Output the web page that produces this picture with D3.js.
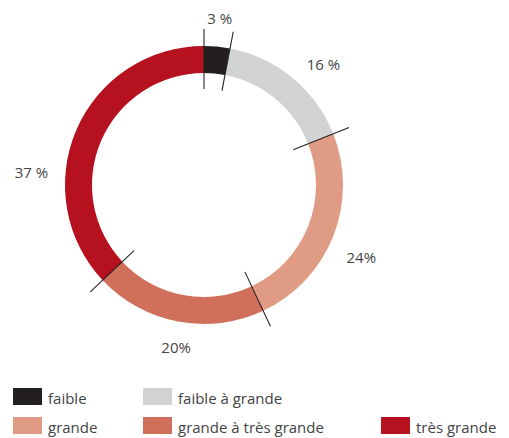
<!DOCTYPE html>
<html><head><meta charset="utf-8">
<script src="https://cdn.jsdelivr.net/npm/d3@7"></script>
<style>body{margin:0;background:#fff}svg{display:block}</style>
</head><body>
<svg id="c" width="509" height="438"></svg>
<script>
const categories = ["faible", "faible à grande", "grande", "grande à très grande", "très grande"];
const values = [3, 16, 24, 20, 37];
const valueLabels = ["3 %", "16 %", "24%", "20%", "37 %"];
const colors = ["#231f20", "#d1d2d4", "#e09b85", "#d0705a", "#b5111e"];

const svg = d3.select("#c");
const cx = 204, cy = 185, rOuter = 139, rInner = 112;
const font = "'Open Sans', sans-serif";
const textColor = "#444";

const pie = d3.pie().sort(null).value(d => d).startAngle(0).endAngle(2 * Math.PI);
const arcs = pie(values);
const arc = d3.arc().innerRadius(rInner).outerRadius(rOuter);

const g = svg.append("g").attr("transform", `translate(${cx},${cy})`);
g.selectAll("path.slice").data(arcs).join("path")
  .attr("class", "slice")
  .attr("d", arc)
  .attr("fill", (d, i) => colors[i]);

// separator lines at slice boundaries
g.selectAll("line.sep").data(arcs).join("line")
  .attr("class", "sep")
  .attr("x1", d => 96 * Math.sin(d.startAngle))
  .attr("y1", d => -96 * Math.cos(d.startAngle))
  .attr("x2", d => 156 * Math.sin(d.startAngle))
  .attr("y2", d => -156 * Math.cos(d.startAngle))
  .attr("stroke", "#222").attr("stroke-width", 1.1);

// label placement (layout): angle offset from slice mid, radius
const labelLayout = [
  {da: 0, r: 168}, {da: 5, r: 170}, {da: 3, r: 173}, {da: -1, r: 164}, {da: -19, r: 173}
];
g.selectAll("text.val").data(arcs).join("text")
  .attr("class", "val")
  .attr("x", (d, i) => {
    const a = (d.startAngle + d.endAngle) / 2 + labelLayout[i].da * Math.PI / 180;
    return labelLayout[i].r * Math.sin(a);
  })
  .attr("y", (d, i) => {
    const a = (d.startAngle + d.endAngle) / 2 + labelLayout[i].da * Math.PI / 180;
    return -labelLayout[i].r * Math.cos(a);
  })
  .attr("text-anchor", "middle").attr("dominant-baseline", "central")
  .attr("font-family", font).attr("font-size", 15).attr("fill", textColor)
  .text((d, i) => valueLabels[i]);

// legend
const legendPos = [
  {x: 13, y: 388}, {x: 143, y: 388},
  {x: 13, y: 417}, {x: 143, y: 417}, {x: 381, y: 417}
];
const lg = svg.append("g").selectAll("g").data(categories).join("g")
  .attr("transform", (d, i) => `translate(${legendPos[i].x},${legendPos[i].y})`);
lg.append("rect").attr("width", 29).attr("height", 17).attr("fill", (d, i) => colors[i]);
lg.append("text").attr("x", 35).attr("y", 16)
  .attr("font-family", font).attr("font-size", 15).attr("fill", textColor)
  .text(d => d);
</script>
</body></html>
